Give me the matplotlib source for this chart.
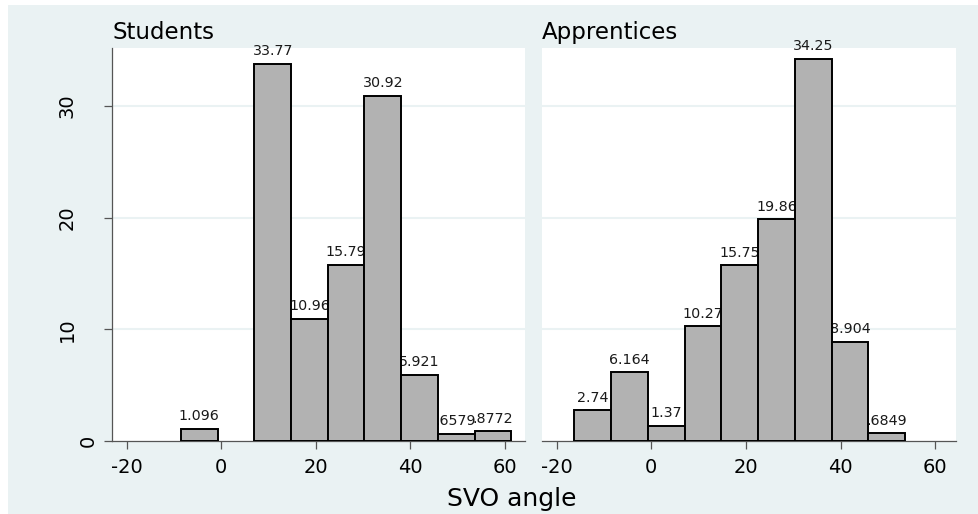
import matplotlib
matplotlib.use("Agg")
import matplotlib.pyplot as plt
from matplotlib.patches import Rectangle
from matplotlib import transforms

# ---------------- data ----------------
bin_left = [-16.26, -8.495, -0.73, 7.035, 14.8, 22.565, 30.33, 38.095, 45.86, 53.625]
bin_width = 7.765
students = [0, 1.096, 0, 33.77, 10.96, 15.79, 30.92, 5.921, 0.6579, 0.8772]
apprentices = [2.74, 6.164, 1.37, 10.27, 15.75, 19.86, 34.25, 8.904, 0.6849, 0]
panel_titles = ["Students", "Apprentices"]
x_ticks = [-20, 0, 20, 40, 60]
y_ticks = [0, 10, 20, 30]
x_label = "SVO angle"

# ---------------- style ----------------
W, H = 979, 514
BG = "#EAF2F3"
BAR = "#B2B2B2"
AXC = "#555555"
plt.rcParams["font.family"] = ["DejaVu Sans"]

fig = plt.figure(figsize=(W / 100, H / 100), dpi=100, facecolor="white")
fig.patches.append(Rectangle((8 / W, 0), 1 - 8 / W, (H - 5) / H,
                             transform=fig.transFigure, facecolor=BG,
                             edgecolor="none", zorder=-10))


def px_axes(x0, y0, x1, y1):
    return fig.add_axes([x0 / W, 1 - y1 / H, (x1 - x0) / W, (y1 - y0) / H])


def fmt(v):
    s = f"{v:.4g}"
    if s.startswith("0."):
        s = s[1:]
    return s


axL = px_axes(111.7, 47.5, 525, 441)
axR = px_axes(541.7, 47.5, 955.7, 441)

for ax, vals in ((axL, students), (axR, apprentices)):
    ax.set_facecolor("white")
    ax.set_xlim(-23.15, 64.3)
    ax.set_ylim(0, 35.25)
    for g in y_ticks[1:]:
        ax.axhline(g, color=BG, lw=1.5, zorder=0.5)
    lefts = [l for l, v in zip(bin_left, vals) if v > 0]
    hs = [v for v in vals if v > 0]
    ax.bar(lefts, hs, width=bin_width, align="edge", color=BAR,
           edgecolor="black", linewidth=1.4, zorder=3)
    for l, v in zip(lefts, hs):
        ax.annotate(fmt(v), xy=(l + bin_width / 2, v), xytext=(0, 6.2),
                    textcoords="offset points", ha="center", va="baseline",
                    fontsize=10.3, color="#1a1a1a", zorder=2.5)
    for s in ("top", "right"):
        ax.spines[s].set_visible(False)
    ax.spines["bottom"].set_color(AXC)
    ax.spines["bottom"].set_linewidth(0.9)
    ax.set_xticks(x_ticks)
    ax.set_xticklabels([str(t) for t in x_ticks])
    ax.tick_params(axis="x", length=5.76, width=0.9, color=AXC,
                   labelsize=14, pad=6.8, labelcolor="black")

axL.spines["left"].set_color(AXC)
axL.spines["left"].set_linewidth(0.9)
axL.set_yticks(y_ticks)
axL.set_yticklabels([""] * len(y_ticks))
axL.tick_params(axis="y", length=5.76, width=0.9, color=AXC)

axR.spines["left"].set_visible(False)
axR.set_yticks([])

# y tick labels (rotated)
tr = transforms.blended_transform_factory(fig.transFigure, axL.transData)
for v in y_ticks:
    xb = 94 if v == 0 else 73
    axL.text(xb / W, v, str(v), rotation=90, rotation_mode="anchor",
             ha="center", va="baseline", fontsize=14, transform=tr,
             clip_on=False)

# panel titles
fig.text(112.0 / W, 1 - 38.8 / H, panel_titles[0], fontsize=16.5,
         ha="left", va="baseline")
fig.text(542.0 / W, 1 - 38.8 / H, panel_titles[1], fontsize=16.5,
         ha="left", va="baseline")

fig.text(512 / W, 1 - 506 / H, x_label, fontsize=18, ha="center",
         va="baseline")

fig.savefig("out.png", dpi=100, facecolor="white")
